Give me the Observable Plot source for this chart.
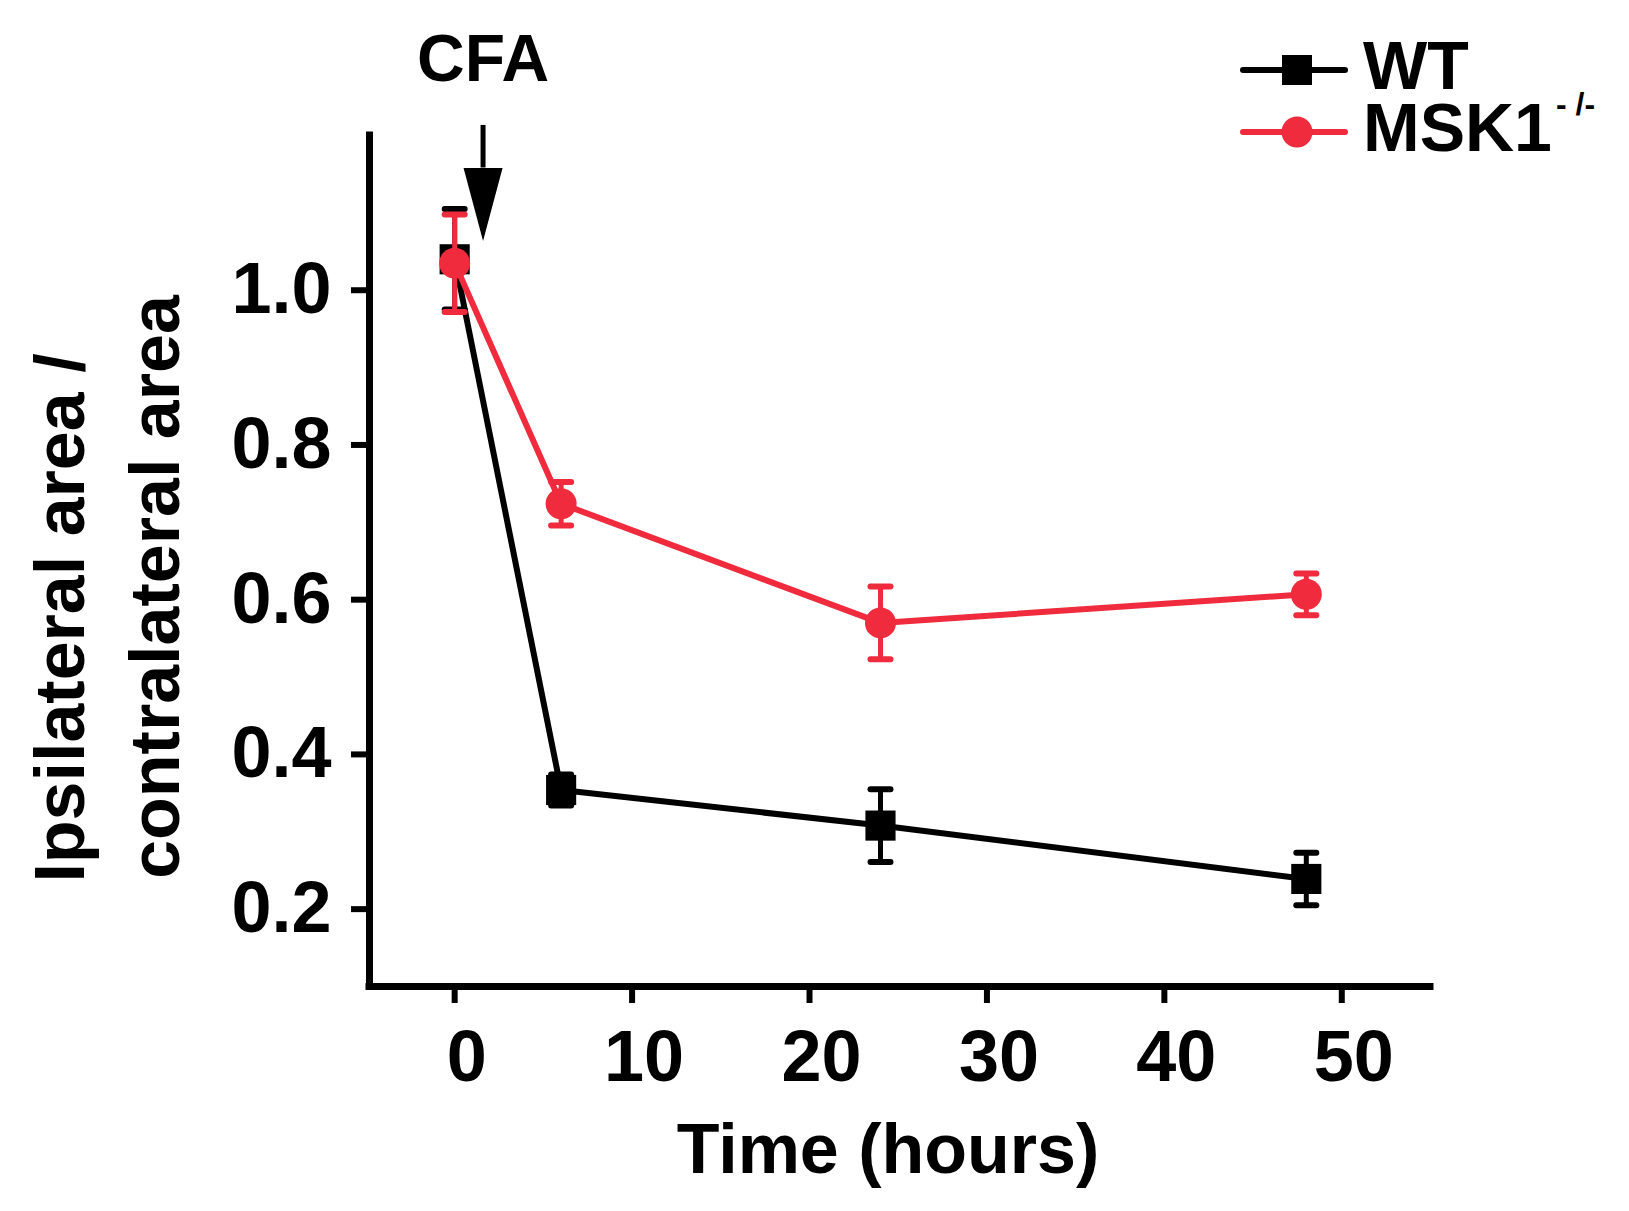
<!DOCTYPE html>
<html>
<head>
<meta charset="utf-8">
<script src="https://cdn.jsdelivr.net/npm/d3@7"></script>
<script src="https://cdn.jsdelivr.net/npm/@observablehq/plot@0.6"></script>
<style>
  body { margin: 0; background: white; }
  #chart { position: relative; width: 1629px; height: 1211px; }
</style>
</head>
<body>
<div id="chart"></div>
<script>
// values
const hours = [0, 6, 24, 48];
const wtMean = [1.04, 0.354, 0.308, 0.239];
const wtErr = [0.065, 0.02, 0.047, 0.034];
const mskMean = [1.035, 0.724, 0.570, 0.607];
const mskErr = [0.063, 0.028, 0.047, 0.027];

const xTicks = [0, 10, 20, 30, 40, 50];
const yTicks = [0.2, 0.4, 0.6, 0.8, 1.0];

// CFA injection arrow (in data units)
const cfa = [{label: "CFA", x: 1.6, labelY: 1.298, top: 1.213, head: 1.158}];

const red = "#EF2B3D";
const font = "'Liberation Sans', Arial, sans-serif";

const wt = hours.map((t, i) => ({t, v: wtMean[i], e: wtErr[i]}));
const msk = hours.map((t, i) => ({t, v: mskMean[i], e: mskErr[i]}));

// small horizontal bar for error caps
const cap = {draw(ctx) { ctx.moveTo(-10, 0); ctx.lineTo(10, 0); }};
// long arrow head pointing down
const arrowHead = {draw(ctx) { ctx.moveTo(-19.5, 0); ctx.lineTo(19.5, 0); ctx.lineTo(0, 73); ctx.closePath(); }};

function series(data, color, symbol, r) {
  return [
    Plot.line(data, {x: "t", y: "v", stroke: color, strokeWidth: 6}),
    Plot.ruleX(data, {x: "t", y1: d => d.v - d.e, y2: d => d.v + d.e, stroke: color, strokeWidth: 5}),
    Plot.dot(data, {x: "t", y: d => d.v + d.e, symbol: cap, stroke: color, strokeWidth: 6, strokeLinecap: "round", r: 1}),
    Plot.dot(data, {x: "t", y: d => d.v - d.e, symbol: cap, stroke: color, strokeWidth: 6, strokeLinecap: "round", r: 1}),
    Plot.dot(data, {x: "t", y: "v", symbol, fill: color, r})
  ];
}

const chart = Plot.plot({
  width: 1629,
  height: 1211,
  marginLeft: 369,
  marginRight: 199,
  marginTop: 135,
  marginBottom: 225,
  style: {fontFamily: font, fontWeight: "bold", background: "white", color: "black"},
  x: {domain: [-4.8, 55]},
  y: {domain: [0.1, 1.2]},
  marks: [
    Plot.axisY(yTicks, {tickSize: 18, tickPadding: 20, tickFormat: ".1f", fontSize: 72, strokeWidth: 6, label: null}),
    Plot.axisX(xTicks, {tickSize: 17, tickFormat: () => "", strokeWidth: 6, label: null}),
    Plot.axisX(xTicks, {tickSize: 0, tickPadding: 43, dx: 12, fontSize: 72, label: null}),
    Plot.ruleX([-4.8], {strokeWidth: 7, strokeLinecap: "square"}),
    Plot.ruleY([0.1], {strokeWidth: 7, strokeLinecap: "square"}),
    Plot.text(["Ipsilateral area /"], {frameAnchor: "left", textAnchor: "middle", rotate: -90, dx: -308, dy: 57, fontSize: 70, lineAnchor: "middle"}),
    Plot.text(["contralateral area"], {frameAnchor: "left", textAnchor: "middle", rotate: -90, dx: -213, dy: 26, fontSize: 70, lineAnchor: "middle"}),
    Plot.text(["Time (hours)"], {frameAnchor: "bottom", dx: -12, dy: 164, fontSize: 70, lineAnchor: "middle"}),
    ...series(wt, "black", "square", 17),
    ...series(msk, red, "circle", 15.5),
    Plot.ruleX(cfa, {x: "x", y1: "top", y2: "head", strokeWidth: 5}),
    Plot.dot(cfa, {x: "x", y: "head", symbol: arrowHead, fill: "black", r: 1}),
    Plot.text(cfa, {x: "x", y: "labelY", text: "label", fontSize: 66, lineAnchor: "middle"})
  ]
});

// legend in the top right corner
const svg = d3.select(chart);
const legend = svg.append("g").attr("font-family", font).attr("font-weight", "bold").attr("text-anchor", "start");
const items = [
  {name: "WT", sup: "", color: "black", shape: "square", y: 70},
  {name: "MSK1", sup: "- /-", color: red, shape: "circle", y: 132}
];
for (const it of items) {
  legend.append("line").attr("x1", 1243).attr("x2", 1345).attr("y1", it.y).attr("y2", it.y)
    .attr("stroke", it.color).attr("stroke-width", 6).attr("stroke-linecap", "round");
  if (it.shape === "square") {
    legend.append("rect").attr("x", 1297 - 15).attr("y", it.y - 15).attr("width", 30).attr("height", 30).attr("fill", it.color);
  } else {
    legend.append("circle").attr("cx", 1297).attr("cy", it.y).attr("r", 15.5).attr("fill", it.color);
  }
  const t = legend.append("text").attr("x", 1363).attr("y", it.y + 19).attr("font-size", 68).attr("fill", "black").text(it.name);
  if (it.sup) t.append("tspan").attr("dy", -36).attr("dx", 4).attr("font-size", 32).text(it.sup);
}

document.getElementById("chart").appendChild(chart);
</script>
</body>
</html>
